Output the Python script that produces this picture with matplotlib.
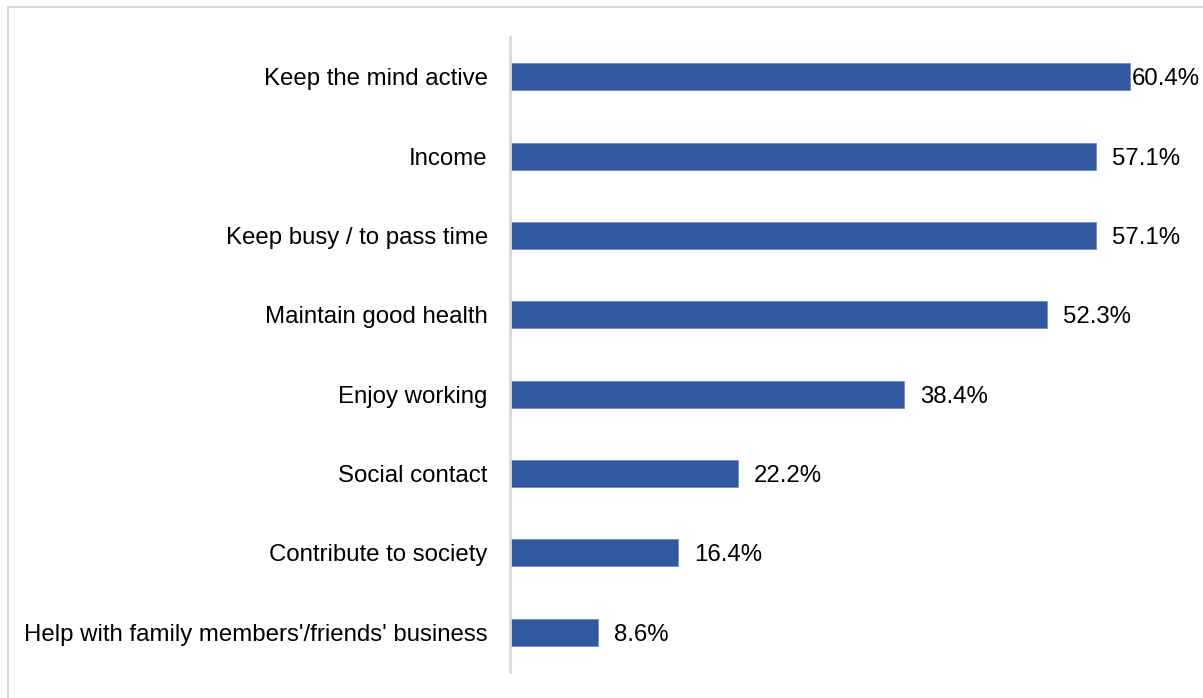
import matplotlib.pyplot as plt
from matplotlib.patches import Rectangle

plt.rcParams['font.family'] = ['Liberation Sans', 'DejaVu Sans']

reasons = [
    "Keep the mind active",
    "Income",
    "Keep busy / to pass time",
    "Maintain good health",
    "Enjoy working",
    "Social contact",
    "Contribute to society",
    "Help with family members'/friends' business",
]
shares = [60.4, 57.1, 57.1, 52.3, 38.4, 22.2, 16.4, 8.6]

W, H = 1203, 698
fig = plt.figure(figsize=(W / 100, H / 100), dpi=100)

# light frame (only top and left edges show)
fig.patches.append(Rectangle((7.5 / W, -0.1), 1.2, 1.1 - 7.5 / H, transform=fig.transFigure,
                             fill=False, edgecolor='#D9D9D9', linewidth=1.5))

ax = fig.add_axes([510 / W, 26 / H, 680 / W, 635 / H])
ypos = range(len(reasons))
ax.barh(ypos, shares, height=0.34, color='#3259A0', edgecolor='#6F8FC8', linewidth=0.6)
ax.set_ylim(len(reasons) - 0.5, -0.5)
ax.set_xlim(0, 680 / 10.27)

ax.set_yticks(list(ypos))
ax.set_yticklabels(reasons, fontsize=17.3, va='center_baseline')
ax.tick_params(axis='y', length=0, pad=16)
ax.set_xticks([])

for s in ['top', 'right', 'bottom']:
    ax.spines[s].set_visible(False)
ax.spines['left'].set_color('#D9D9D9')
ax.spines['left'].set_linewidth(2)

top = max(shares)
for y, v in zip(ypos, shares):
    pad = 1 if v == top else 16
    ax.annotate(f"{v:.1f}%", (v, y), xytext=(pad, 0), textcoords='offset pixels',
                va='center_baseline', ha='left', fontsize=17.3, annotation_clip=False)

fig.savefig('out.png', dpi=100)
